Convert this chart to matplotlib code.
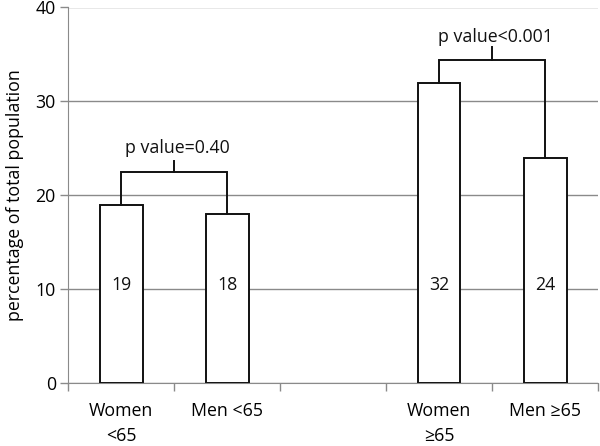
import matplotlib
matplotlib.use("Agg")
import matplotlib.pyplot as plt
import numpy as np

plt.rcParams['font.family'] = ['Open Sans', 'DejaVu Sans']

# Data
categories = ["Women\n<65", "Men <65", "", "Women\n≥65", "Men ≥65"]
values = [19, 18, None, 32, 24]
value_labels = ["19", "18", "", "32", "24"]
comparisons = [  # (index a, index b, bracket level, tick top, text level, text)
    (0, 1, 22.5, 23.6, 25.0, "p value=0.40"),
    (3, 4, 34.4, 35.8, 36.9, "p value<0.001"),
]
yticks = [0, 10, 20, 30, 40]

fig = plt.figure(figsize=(6, 4.46), dpi=100)
ax = fig.add_axes([68.3 / 600, 63 / 446, 530 / 600, 375.5 / 446])

x = np.arange(len(categories))
bar_x = [xi for xi, v in zip(x, values) if v is not None]
bar_v = [v for v in values if v is not None]
ax.bar(bar_x, bar_v, width=0.4, color="white", edgecolor="#111111",
       linewidth=1.4, zorder=3)

for xi, v, lab in zip(x, values, value_labels):
    if v is not None:
        ax.text(xi, 10.4, lab, ha="center", va="center", fontsize=12.8,
                color="#111111", zorder=4)

for a, b, lvl, tick, tlev, txt in comparisons:
    xa, xb = x[a], x[b]
    ax.plot([xa, xa, xb, xb], [values[a], lvl, lvl, values[b]],
            color="#111111", lw=1.4, zorder=4, solid_joinstyle="miter")
    mid = (xa + xb) / 2
    ax.plot([mid, mid], [lvl, tick], color="#111111", lw=1.4, zorder=4)
    ax.text(mid + 0.03, tlev, txt, ha="center", va="center", fontsize=12.8,
            color="#111111")

ax.set_xlim(-0.5, 4.5)
ax.set_ylim(0, 40)
ax.set_yticks(yticks)
ax.set_yticklabels([str(t) for t in yticks], fontsize=12.8)
ax.yaxis.grid(True, color="#8a8a8a", lw=1.0)
ax.set_axisbelow(True)

ax.set_xticks(x)
ax.set_xticklabels(categories, fontsize=12.8, linespacing=1.45, va="top")
ax.tick_params(axis="x", which="major", length=0, pad=14)
ax.set_xticks(np.arange(-0.5, 5.0, 1.0), minor=True)
ax.tick_params(axis="x", which="minor", length=5.5, color="#8a8a8a", width=1.0)
ax.tick_params(axis="y", length=6, color="#8a8a8a", width=1.0, pad=3)

for s in ["top", "right"]:
    ax.spines[s].set_visible(False)
ax.spines["left"].set_color("#8a8a8a")
ax.spines["bottom"].set_color("#8a8a8a")

ax.set_ylabel("percentage of total population", fontsize=12.8, labelpad=8)

fig.savefig("out.png", dpi=100)
